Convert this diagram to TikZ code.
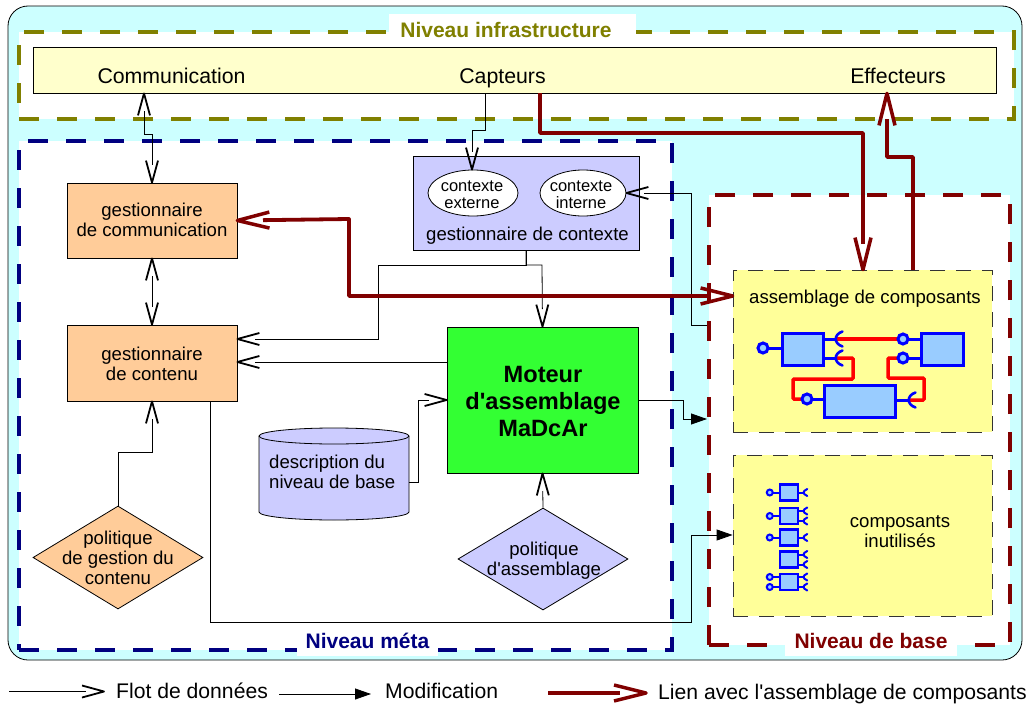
\documentclass[tikz,border=0pt]{standalone}
\usepackage{fontspec}
\defaultfontfeatures[\rmfamily]{}
\setmainfont{Liberation Sans}
\usetikzlibrary{arrows.meta,shapes.geometric,calc}
\definecolor{bgcyan}{HTML}{CCFFFF}
\definecolor{olivec}{HTML}{808000}
\definecolor{navyc}{HTML}{000080}
\definecolor{darkred}{HTML}{800000}
\definecolor{barc}{HTML}{FFFFCC}
\definecolor{orangec}{HTML}{FFCC99}
\definecolor{lilac}{HTML}{CCCCFF}
\definecolor{greenc}{HTML}{33FF33}
\definecolor{yellowc}{HTML}{FFFF99}
\definecolor{compc}{HTML}{99CCFF}
\makeatletter
\pgfdeclarearrow{
  name=Long Barb,
  parameters={\the\pgfarrowlength,\the\pgfarrowwidth,\the\pgfarrowlinewidth},
  setup code={
    \pgfarrowssettipend{0pt}
    \pgfarrowssetlineend{-.8\pgfarrowlength}
    \pgfarrowssetvisualbackend{-\pgfarrowlength}
    \pgfarrowssetbackend{-\pgfarrowlength}
    \pgfarrowshullpoint{0pt}{0pt}
    \pgfarrowsupperhullpoint{-\pgfarrowlength}{.5\pgfarrowwidth}
    \pgfarrowssavethe\pgfarrowlength
    \pgfarrowssavethe\pgfarrowwidth
    \pgfarrowssavethe\pgfarrowlinewidth
  },
  drawing code={
    \pgfsetdash{}{+0pt}
    \pgfsetlinewidth{\pgfarrowlinewidth}
    \pgfsetroundjoin
    \pgfsetbuttcap
    \pgfpathmoveto{\pgfqpoint{-\pgfarrowlength}{.5\pgfarrowwidth}}
    \pgfpathlineto{\pgfqpoint{0pt}{0pt}}
    \pgfpathlineto{\pgfqpoint{-\pgfarrowlength}{-.5\pgfarrowwidth}}
    \pgfusepathqstroke
  },
  defaults={length=22pt,width=12pt,line width=1.8pt}
}
\makeatother
\tikzset{
  box/.style={draw=black,line width=0.8pt,inner sep=0pt,align=center,font=\fontsize{18.6}{20}\selectfont},
  level/.style={line width=4pt,dash pattern=on 20pt off 18pt,fill=white},
  levellabel/.style={fill=white,font=\fontsize{21}{24}\selectfont\bfseries,inner xsep=0pt},
  zone/.style={draw=black!80,line width=0.8pt,dash pattern=on 15pt off 11pt,fill=yellowc},
  data/.style={draw=black,line width=0.8pt,-{Long Barb}},
  datab/.style={draw=black,line width=0.8pt,{Long Barb}-{Long Barb}},
  modif/.style={draw=black,line width=0.8pt,-{Triangle[length=16pt,width=11pt]}},
  link/.style={draw=darkred,line width=3.8pt,line join=round,-{Long Barb[length=32pt,width=16pt,line width=3.5pt]}},
  linkb/.style={draw=darkred,line width=3.8pt,line join=round,{Long Barb[length=32pt,width=16pt,line width=3.5pt]}-{Long Barb[length=32pt,width=16pt,line width=3.5pt]}},
  comp/.style={draw=blue,line width=3pt,fill=compc,inner sep=0pt},
  wire/.style={draw=red,line width=3.5pt,rounded corners=1pt},
  stem/.style={draw=blue,line width=3pt},
  lab/.style={inner sep=0pt,font=\fontsize{21.3}{24}\selectfont,anchor=base},
  txt/.style={inner sep=0pt,font=\fontsize{18.6}{20}\selectfont},
  small/.style={inner sep=0pt,align=center,font=\fontsize{16.5}{17}\selectfont},
  leg/.style={inner sep=0pt,font=\fontsize{21.15}{24}\selectfont,anchor=base west},
}
\newcommand{\ballat}[2]{\draw[blue,line width=3pt,fill=compc] (#1) circle (#2pt);}
\newcommand{\socketR}[2]{\draw[blue,line width=2.6pt,line cap=round] ($(#1)+(#2,-#2)$) .. controls ($(#1)+(-0.2*#2,-0.6*#2)$) and ($(#1)+(-0.2*#2,0.6*#2)$) .. ($(#1)+(#2,#2)$);}
\begin{document}
\begin{tikzpicture}[x=1pt,y=-1pt]
\useasboundingbox (0,0) rectangle (1029,704);
% background
\node[draw=black,line width=0.8pt,fill=bgcyan,rounded corners=20pt,minimum width=1014pt,minimum height=654pt,inner sep=0pt] (bg) at (515,333) {};
% levels
\node[level,draw=olivec,minimum width=995pt,minimum height=87pt,inner sep=0pt] (infra) at (516.5,75.5) {};
\node[level,draw=navyc,minimum width=653pt,minimum height=509pt,inner sep=0pt] (meta) at (345.5,395.5) {};
\node[level,draw=darkred,minimum width=301pt,minimum height=450pt,inner sep=0pt] (base) at (859.5,420) {};
\node[levellabel,text=olivec,minimum height=32pt] (infralab) at (512.5,30) {\kern11pt Niveau infrastructure\kern24pt\null};
\node[levellabel,text=navyc,minimum height=31pt] (metalab) at (367.5,640.5) {\kern9pt Niveau méta\kern9pt\null};
\node[levellabel,text=darkred,minimum height=31pt] (baselab) at (871,640.5) {\kern10pt Niveau de base\kern10pt\null};
% bar
\node[box,fill=barc,minimum width=963pt,minimum height=46pt] (bar) at (514.5,70) {};
\node[lab] (comm) at (171.5,83) {Communication};
\node[lab] (capt) at (502.5,83) {Capteurs};
\node[lab] (effe) at (898,83) {Effecteurs};
% main boxes
\node[box,fill=orangec,minimum width=170pt,minimum height=75pt] (gcom) at (152,220.5) {};
\node[txt,align=center] (gcomlab) at (152,220) {gestionnaire\\de communication};
\node[box,fill=orangec,minimum width=170pt,minimum height=76pt] (gcon) at (152,363) {};
\node[txt,align=center] (gconlab) at (152,363.5) {gestionnaire\\de contenu};
\node[box,fill=lilac,minimum width=226pt,minimum height=94pt] (gctx) at (526,203) {};
\node[txt] (gctxlab) at (527.5,236) {gestionnaire de contexte};
\node[draw=black,line width=0.8pt,fill=white,ellipse,minimum width=90pt,minimum height=46pt,inner sep=0pt] (cext) at (473,193) {};
\node[draw=black,line width=0.8pt,fill=white,ellipse,minimum width=86pt,minimum height=46pt,inner sep=0pt] (cint) at (583,193) {};
\node[small] (cextlab) at (472,195) {contexte\\externe};
\node[small] (cintlab) at (581,195) {contexte\\interne};
\node[box,fill=greenc,minimum width=191pt,minimum height=146pt] (mot) at (542.5,400) {};
\node[inner sep=0pt,align=center,font=\fontsize{23.6}{27}\selectfont\bfseries] (motlab) at (543,401) {Moteur\\d'assemblage\\MaDcAr};
% cylinder
\node[minimum width=150pt,minimum height=92pt,inner sep=0pt] (desc) at (334,474) {};
\draw[line width=0.8pt,fill=lilac] (259,436) arc[x radius=75,y radius=8,start angle=180,end angle=360] -- (409,512) arc[x radius=75,y radius=8,start angle=0,end angle=180] -- cycle;
\draw[line width=0.8pt] (259,436) arc[x radius=75,y radius=8,start angle=180,end angle=0];
\node[txt,align=left,anchor=west] (desclab) at (269,472) {description du\\niveau de base};
\node[box,diamond,fill=orangec,minimum width=170pt,minimum height=103pt] (pcon) at (118,557.5) {};
\node[txt,align=center] (pconlab) at (118,558) {politique\\de gestion du\\contenu};
\node[box,diamond,fill=lilac,minimum width=170pt,minimum height=102pt] (pass) at (543,559) {};
\node[txt,align=center] (passlab) at (544,561) {politique\\d'assemblage};
% zones
\node[zone,minimum width=259pt,minimum height=162pt,inner sep=0pt] (zass) at (862.5,351) {};
\node[zone,minimum width=259pt,minimum height=161pt,inner sep=0pt] (zunu) at (862.5,535.5) {};
\node[txt] (zasslab) at (865,299) {assemblage de composants};
\node[txt,align=center] (zunulab) at (900,532) {composants\\inutilisés};
% components of the assembly
\node[comp,minimum width=41pt,minimum height=32pt] (ca) at (802.5,349) {};
\node[comp,minimum width=42pt,minimum height=32pt] (cb) at (942,349) {};
\node[comp,minimum width=71pt,minimum height=32pt] (cc) at (859.5,401) {};
\coordinate (sa1) at (835,339);
\coordinate (sa2) at (835,358);
\coordinate (bb1) at (903,339);
\coordinate (bb2) at (903,358);
\coordinate (bc) at (807,399);
\coordinate (sc) at (908,400);
\coordinate (ba) at (763,348);
\draw[wire] (sa1) -- (bb1);
\draw[wire] (sa2) -- (853,358) -- (853,379) -- (793,379) -- (793,399) -- (bc);
\draw[wire] (sc) -- (924,400) -- (924,378) -- (888,378) -- (888,358) -- (bb2);
\draw[stem] (ca.east |- sa1) -- (sa1);
\draw[stem] (ca.east |- sa2) -- (sa2);
\draw[stem] (cb.west |- bb1) -- (bb1);
\draw[stem] (cb.west |- bb2) -- (bb2);
\draw[stem] (cc.west |- bc) -- (bc);
\draw[stem] (cc.east |- sc) -- (sc);
\draw[stem] (ca.west |- ba) -- (ba);
\socketR{sa1}{7.5}
\socketR{sa2}{7.5}
\socketR{sc}{7.5}
\ballat{bb1}{5}
\ballat{bb2}{5}
\ballat{bc}{5}
\ballat{ba}{5}
% unused components
\foreach \nm/\yy in {u1/492.5,u2/516,u3/537.5,u4/559.5,u5/582}{
  \node[comp,line width=2.5pt,minimum width=18pt,minimum height=16pt] (\nm) at (789,\yy) {};
}
\foreach \nm/\dy in {u1/0,u2/-5,u2/5,u3/0,u4/-5,u4/5,u5/-5,u5/5}{
  \draw[blue,line width=2pt] ($(\nm.east)+(0,\dy)$) -- ++(5,0);
  \draw[blue,line width=2pt,line cap=round] ($(\nm.east)+(8,\dy-3.5)$) .. controls ($(\nm.east)+(3,\dy-1)$) and ($(\nm.east)+(3,\dy+1)$) .. ($(\nm.east)+(8,\dy+3.5)$);
}
\foreach \nm/\dy in {u1/0,u2/0,u3/0,u5/-5,u5/5}{
  \draw[blue,line width=2pt] ($(\nm.west)+(0,\dy)$) -- ++(-6,0);
  \draw[blue,line width=2pt,fill=compc] ($(\nm.west)+(-9,\dy)$) circle (3pt);
}
% connectors
\draw[datab] (bar.south -| 144,0) -- (144,134) -- (152,134) -- (gcom.north);
\draw[data] (bar.south -| 485,0) -- (485,130) -- (472,130) -- (cext.north -| 472,0);
\draw[datab] (gcom.south) -- (gcon.north);
\draw[data] (gctx.south) -- (526,265) -- (378,265) -- (378,339) -- (gcon.east |- 0,339);
\draw[data] (gctx.south) -- (526,265) -- (542,265) -- (mot.north);
\draw[data] (mot.west |- 0,362) -- (gcon.east |- 0,362);
\draw[data] (desc.east |- 0,482) -- (418,482) -- (418,400) -- (mot.west);
\draw[data] (pass.north) -- (mot.south);
\draw[data] (pcon.north) -- (118,452) -- (152,452) -- (gcon.south);
\draw[data] (base.west |- 0,325) -- (691,325) -- (691,193) -- (cint.east);
\draw[modif] (mot.east) -- (683,400) -- (683,419) -- (base.west |- 0,419);
\draw[modif] (gcon.south -| 210,0) -- (210,622) -- (691,622) -- (691,535) -- (zunu.west |- 0,535);
\draw[link] (bar.south -| 540,0) -- (540,133) -- (863,133) -- (zass.north -| 863,0);
\draw[link] (zass.north -| 913,0) -- (913,157) -- (887,157) -- (bar.south -| 887,0);
\draw[linkb] (gcom.east) -- (349,219) -- (349,296) -- (zass.west |- 0,296);
% legend
\coordinate (l1a) at (9,691.5);
\coordinate (l1b) at (104,691.5);
\coordinate (l2a) at (279,694);
\coordinate (l2b) at (371,694);
\coordinate (l3a) at (548,693);
\coordinate (l3b) at (646,693);
\draw[data] (l1a) -- (l1b);
\draw[modif] (l2a) -- (l2b);
\draw[link] (l3a) -- (l3b);
\node[leg] (t1) at (116,698) {Flot de données};
\node[leg] (t2) at (385,698) {Modification};
\node[leg] (t3) at (658,699) {Lien avec l'assemblage de composants};
\end{tikzpicture}
\end{document}
